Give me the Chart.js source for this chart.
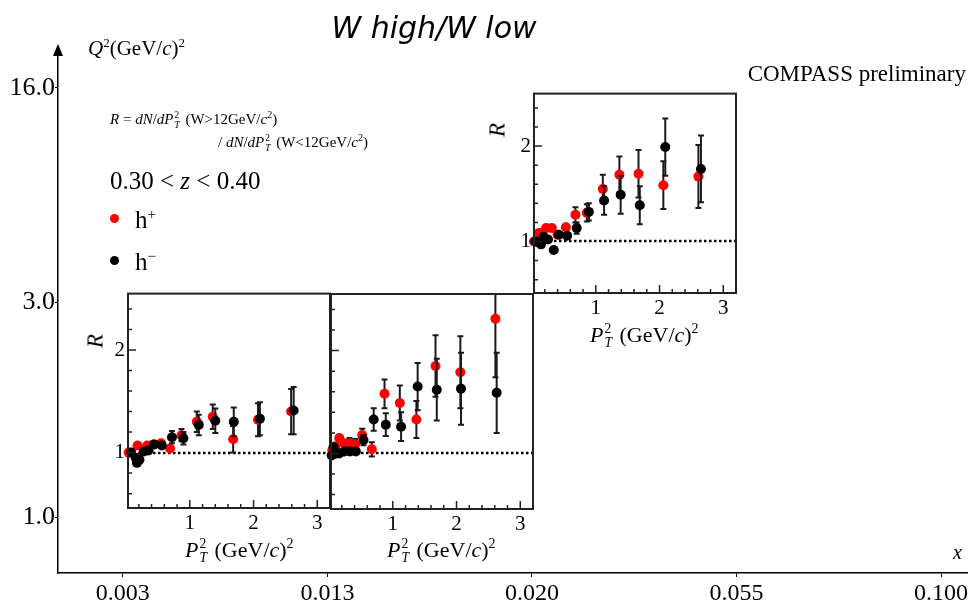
<!DOCTYPE html>
<html>
<head>
<meta charset="UTF-8">
<title>W high/W low</title>
<script src="https://cdn.jsdelivr.net/npm/chart.js"></script>
<style>
  body { margin: 0; background: white; }
  #wrap { position: relative; width: 970px; height: 609px; overflow: hidden; font-family: "Liberation Serif", "Times New Roman", serif; color: black; }
  canvas { position: absolute; }
  .txt { position: absolute; white-space: nowrap; line-height: 1; }
  .ss { display: inline-block; vertical-align: -0.42em; font-size: 0.62em; line-height: 1.05; text-align: left; margin: 0 2px 0 1px; }
  .ss span { display: block; }
  .dot { position: absolute; width: 9px; height: 9px; border-radius: 50%; }
  .rot { position: absolute; transform: translate(-50%, -50%) rotate(-90deg); font-style: italic; font-size: 23px; line-height: 1; }
</style>
</head>
<body>
<div id="wrap">
  <canvas id="outer" width="970" height="609" style="left:0;top:0"></canvas>

  <div class="txt" style="left:434px;top:13px;transform:translateX(-50%);font-family:'DejaVu Sans';font-style:italic;font-size:30px;">W high/W low</div>
  <div class="txt" style="left:88px;top:36px;font-size:21px;"><i>Q</i><sup style="font-size:13px">2</sup>(GeV/<i>c</i>)<sup style="font-size:13px">2</sup></div>
  <div class="txt" style="right:4px;top:62px;font-size:23px;">COMPASS preliminary</div>
  <div class="txt" style="left:110px;top:110px;font-size:15px;"><i>R</i> = <i>dN</i>/<i>dP</i><span class="ss"><span>2</span><i>T</i></span> (W&gt;12GeV/<i>c</i><sup style="font-size:10px">2</sup>)</div>
  <div class="txt" style="left:218px;top:133px;font-size:15px;">/ <i>dN</i>/<i>dP</i><span class="ss"><span>2</span><i>T</i></span> (W&lt;12GeV/<i>c</i><sup style="font-size:10px">2</sup>)</div>
  <div class="txt" style="left:110px;top:168px;font-size:25px;">0.30 &lt; <i>z</i> &lt; 0.40</div>
  <div class="dot" style="left:110px;top:214px;background:#ff0000;"></div>
  <div class="txt" style="left:135px;top:207px;font-size:25px;">h<sup style="font-size:15px">+</sup></div>
  <div class="dot" style="left:110px;top:256px;background:#000;"></div>
  <div class="txt" style="left:135px;top:249px;font-size:25px;">h<sup style="font-size:15px">&minus;</sup></div>
  <div class="txt" style="left:953px;top:542px;font-size:20px;font-style:italic;">x</div>

  <div class="rot" style="left:95px;top:341px;">R</div>
  <div class="rot" style="left:497px;top:130px;">R</div>
  <div class="txt" style="left:185px;top:537px;font-size:22px;"><i>P</i><span class="ss"><span>2</span><i>T</i></span> (GeV/<i>c</i>)<sup style="font-size:14px">2</sup></div>
  <div class="txt" style="left:387px;top:537px;font-size:22px;"><i>P</i><span class="ss"><span>2</span><i>T</i></span> (GeV/<i>c</i>)<sup style="font-size:14px">2</sup></div>
  <div class="txt" style="left:590px;top:322px;font-size:22px;"><i>P</i><span class="ss"><span>2</span><i>T</i></span> (GeV/<i>c</i>)<sup style="font-size:14px">2</sup></div>
</div>

<script>
// outer axes
const xBinLabels = ["0.003", "0.013", "0.020", "0.055", "0.100"];
const q2BinLabels = ["1.0", "3.0", "16.0"];

// inset axes
const insetXTicks = [1, 2, 3];
const insetYTicks = [1, 2];

// panel 1 (lower left)
const p1PlusX  = [0.04, 0.18, 0.33, 0.43, 0.55, 0.69, 0.87, 1.11, 1.36, 1.68, 2.07, 2.59];
const p1PlusY  = [1.00, 1.07, 1.07, 1.08, 1.09, 1.04, 1.17, 1.30, 1.35, 1.13, 1.32, 1.40];
const p1PlusE  = [0.02, 0.02, 0.02, 0.02, 0.03, 0.04, 0.06, 0.10, 0.12, 0.13, 0.16, 0.22];
const p1MinusX = [0.08, 0.15, 0.17, 0.21, 0.28, 0.35, 0.44, 0.56, 0.72, 0.90, 1.14, 1.40, 1.69, 2.10, 2.63];
const p1MinusY = [1.00, 0.95, 0.90, 0.93, 1.01, 1.02, 1.08, 1.07, 1.15, 1.14, 1.27, 1.31, 1.30, 1.33, 1.41];
const p1MinusE = [0.02, 0.02, 0.02, 0.02, 0.02, 0.02, 0.03, 0.04, 0.06, 0.06, 0.10, 0.12, 0.14, 0.16, 0.23];

// panel 2 (lower middle)
const p2PlusX  = [0.05, 0.10, 0.16, 0.24, 0.32, 0.41, 0.52, 0.67, 0.87, 1.11, 1.37, 1.67, 2.06, 2.61];
const p2PlusY  = [1.03, 1.07, 1.15, 1.10, 1.10, 1.09, 1.18, 1.04, 1.58, 1.49, 1.33, 1.85, 1.79, 2.31];
const p2PlusE  = [0.02, 0.03, 0.04, 0.04, 0.05, 0.05, 0.06, 0.07, 0.14, 0.17, 0.18, 0.30, 0.35, 0.57];
const p2MinusX = [0.04, 0.07, 0.11, 0.16, 0.24, 0.33, 0.42, 0.54, 0.70, 0.89, 1.13, 1.39, 1.69, 2.07, 2.63];
const p2MinusY = [0.98, 1.06, 1.00, 1.00, 1.02, 1.02, 1.02, 1.13, 1.33, 1.28, 1.26, 1.65, 1.62, 1.63, 1.59];
const p2MinusE = [0.02, 0.03, 0.03, 0.03, 0.03, 0.04, 0.04, 0.05, 0.11, 0.11, 0.14, 0.23, 0.30, 0.35, 0.39];

// panel 3 (upper right)
const p3PlusX  = [0.03, 0.11, 0.22, 0.31, 0.40, 0.53, 0.68, 0.86, 1.11, 1.37, 1.67, 2.06, 2.61];
const p3PlusY  = [1.00, 1.09, 1.14, 1.14, 1.07, 1.15, 1.28, 1.30, 1.55, 1.70, 1.71, 1.59, 1.68];
const p3PlusE  = [0.02, 0.03, 0.03, 0.04, 0.04, 0.05, 0.08, 0.09, 0.15, 0.19, 0.25, 0.25, 0.33];
const p3MinusX = [0.05, 0.10, 0.14, 0.18, 0.25, 0.34, 0.42, 0.55, 0.70, 0.89, 1.13, 1.39, 1.69, 2.09, 2.65];
const p3MinusY = [1.00, 0.99, 0.97, 1.05, 1.02, 0.91, 1.07, 1.06, 1.14, 1.31, 1.43, 1.49, 1.38, 1.99, 1.76];
const p3MinusE = [0.02, 0.02, 0.02, 0.03, 0.03, 0.03, 0.04, 0.04, 0.06, 0.09, 0.15, 0.20, 0.20, 0.30, 0.35];

const SERIF = "'Liberation Serif', 'Times New Roman', serif";

// arrow on top of the Q2 axis
const arrowHead = {
  id: 'arrowHead',
  afterDraw(chart) {
    const ctx = chart.ctx;
    const x = chart.chartArea.left;
    const t = chart.chartArea.top;
    ctx.save();
    ctx.fillStyle = 'black';
    ctx.beginPath();
    ctx.moveTo(x, t - 3);
    ctx.lineTo(x - 5, t + 9);
    ctx.lineTo(x + 5, t + 9);
    ctx.closePath();
    ctx.fill();
    ctx.restore();
  }
};

new Chart(document.getElementById('outer'), {
  type: 'scatter',
  data: { datasets: [] },
  options: {
    responsive: false,
    animation: false,
    devicePixelRatio: 1,
    layout: { padding: { left: 0, top: 47, right: 0, bottom: 0 } },
    plugins: { legend: { display: false }, tooltip: { enabled: false } },
    scales: {
      x: {
        type: 'linear', min: -0.317, max: 4.132,
        afterBuildTicks: s => { s.ticks = xBinLabels.map((l, i) => ({ value: i })); },
        afterFit: s => { s.height = 36; },
        grid: { drawOnChartArea: false, drawTicks: true, tickLength: 4, color: 'black' },
        border: { color: 'black', width: 1.5 },
        ticks: { font: { family: SERIF, size: 24 }, color: 'black', padding: 2, maxRotation: 0, autoSkip: false,
                 callback: (v, i) => xBinLabels[i] }
      },
      y: {
        type: 'linear', min: -0.261, max: 2.191,
        afterBuildTicks: s => { s.ticks = q2BinLabels.map((l, i) => ({ value: i })); },
        afterFit: s => { s.width = 58; },
        grid: { drawOnChartArea: false, drawTicks: true, tickLength: 3, color: 'black' },
        border: { color: 'black', width: 1.5 },
        ticks: { font: { family: SERIF, size: 26 }, color: 'black', padding: 0, autoSkip: false,
                 callback: (v, i) => q2BinLabels[i] }
      }
    }
  },
  plugins: [arrowHead]
});

// error bars, reference line, frame and inner ticks of the insets
const errorBars = {
  id: 'errorBars',
  beforeDatasetDraw(chart, args) {
    const ds = chart.data.datasets[args.index];
    const a = chart.chartArea;
    const ys = chart.scales.y;
    const ctx = chart.ctx;
    ctx.save();
    ctx.beginPath();
    ctx.rect(a.left, a.top, a.right - a.left, a.bottom - a.top);
    ctx.clip();
    ctx.strokeStyle = '#1a1a1a';
    ctx.lineWidth = 2;
    args.meta.data.forEach((pt, i) => {
      const v = ds.data[i].y, e = ds.err[i];
      const y1 = ys.getPixelForValue(v + e), y2 = ys.getPixelForValue(v - e);
      ctx.beginPath();
      ctx.moveTo(pt.x, y1); ctx.lineTo(pt.x, y2);
      if (y2 - y1 > 10) {
        ctx.moveTo(pt.x - 3, y1); ctx.lineTo(pt.x + 3, y1);
        ctx.moveTo(pt.x - 3, y2); ctx.lineTo(pt.x + 3, y2);
      }
      ctx.stroke();
    });
    ctx.restore();
  }
};

const insetFrame = {
  id: 'insetFrame',
  beforeDatasetsDraw(chart) {
    const a = chart.chartArea;
    const ctx = chart.ctx;
    const y1 = Math.round(chart.scales.y.getPixelForValue(1));
    ctx.save();
    ctx.strokeStyle = 'black';
    ctx.lineWidth = 2.5;
    ctx.setLineDash([2.5, 2.5]);
    ctx.beginPath();
    ctx.moveTo(a.left, y1);
    ctx.lineTo(a.right, y1);
    ctx.stroke();
    ctx.restore();
  },
  afterDatasetsDraw(chart) {
    const a = chart.chartArea;
    const ctx = chart.ctx;
    const xs = chart.scales.x, ys = chart.scales.y;
    ctx.save();
    ctx.strokeStyle = '#222';
    ctx.lineWidth = 1.5;
    ctx.beginPath();
    for (let k = 1; k <= 15; k++) {
      const px = xs.getPixelForValue(k * 0.2);
      if (px > a.right - 1) break;
      const len = (k % 5 === 0) ? 8 : 4;
      ctx.moveTo(px, a.bottom); ctx.lineTo(px, a.bottom - len);
    }
    for (let k = 3; k <= 12; k++) {
      const py = ys.getPixelForValue(k * 0.2);
      const len = (k % 5 === 0) ? 8 : 4;
      ctx.moveTo(a.left, py); ctx.lineTo(a.left + len, py);
    }
    ctx.stroke();
    ctx.lineWidth = 2;
    ctx.strokeRect(a.left, a.top, a.right - a.left, a.bottom - a.top);
    ctx.restore();
  }
};

function insetConfig(plusX, plusY, plusE, minusX, minusY, minusE, showYLabels) {
  return {
    type: 'scatter',
    data: {
      datasets: [
        { label: 'h-', data: minusX.map((x, i) => ({ x: x, y: minusY[i] })), err: minusE,
          backgroundColor: '#000', borderWidth: 0, pointRadius: 5, clip: 6 },
        { label: 'h+', data: plusX.map((x, i) => ({ x: x, y: plusY[i] })), err: plusE,
          backgroundColor: '#ff0000', borderWidth: 0, pointRadius: 5, clip: 6 }
      ]
    },
    options: {
      responsive: false,
      animation: false,
      devicePixelRatio: 1,
      layout: { padding: 0 },
      plugins: { legend: { display: false }, tooltip: { enabled: false } },
      scales: {
        x: {
          type: 'linear', min: 0.03, max: 3.2,
          afterBuildTicks: s => { s.ticks = insetXTicks.map(v => ({ value: v })); },
          afterFit: s => { s.height = 30; },
          grid: { display: false, drawTicks: false },
          border: { display: false },
          ticks: { font: { family: SERIF, size: 21 }, color: 'black', padding: 3, maxRotation: 0, autoSkip: false }
        },
        y: {
          type: 'linear', min: 0.46, max: 2.55,
          afterBuildTicks: s => { s.ticks = insetYTicks.map(v => ({ value: v })); },
          afterFit: s => { s.width = 34; },
          grid: { display: false, drawTicks: false },
          border: { display: false },
          ticks: { display: showYLabels, font: { family: SERIF, size: 21 }, color: 'black', padding: 3, autoSkip: false }
        }
      }
    },
    plugins: [insetFrame, errorBars]
  };
}

// build once, measure where the plot area landed, then rebuild so the frame sits on the box
function makeInset(box, plusX, plusY, plusE, minusX, minusY, minusE, showYLabels) {
  const cv = document.createElement('canvas');
  cv.width = (box.r - box.l) + 60;
  cv.height = (box.b - box.t) + 60;
  document.getElementById('wrap').appendChild(cv);
  let chart = new Chart(cv, insetConfig(plusX, plusY, plusE, minusX, minusY, minusE, showYLabels));
  const a = chart.chartArea;
  const padL = a.left, padT = a.top, padR = cv.width - a.right, padB = cv.height - a.bottom;
  chart.destroy();
  cv.width = (box.r - box.l) + padL + padR;
  cv.height = (box.b - box.t) + padT + padB;
  cv.style.left = (box.l - padL) + 'px';
  cv.style.top = (box.t - padT) + 'px';
  chart = new Chart(cv, insetConfig(plusX, plusY, plusE, minusX, minusY, minusE, showYLabels));
}

makeInset({ l: 128, t: 294, r: 330, b: 509 }, p1PlusX, p1PlusY, p1PlusE, p1MinusX, p1MinusY, p1MinusE, true);
makeInset({ l: 331, t: 294, r: 533, b: 509 }, p2PlusX, p2PlusY, p2PlusE, p2MinusX, p2MinusY, p2MinusE, false);
makeInset({ l: 534, t: 94, r: 736, b: 294 }, p3PlusX, p3PlusY, p3PlusE, p3MinusX, p3MinusY, p3MinusE, true);
</script>
</body>
</html>
